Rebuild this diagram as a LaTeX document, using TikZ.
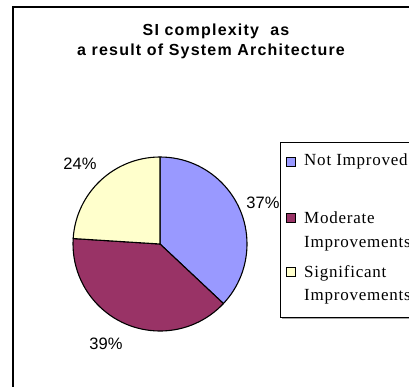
\documentclass[tikz,border=0pt]{standalone}
\usepackage{fontspec}
\newfontfamily\arialf{Liberation Sans}
\newfontfamily\titlef[LetterSpace=7.5]{Liberation Sans}
\newfontfamily\timesf[LetterSpace=4.5]{Liberation Serif}
\definecolor{notimp}{HTML}{9999FF}
\definecolor{modimp}{HTML}{993366}
\definecolor{sigimp}{HTML}{FFFFCC}
\begin{document}
\begin{tikzpicture}[x=1pt,y=1pt,
  slice/.style={draw=black,line width=1.1pt,line join=round},
  pct/.style={font=\arialf\fontsize{16.5}{18}\selectfont,inner sep=0pt},
  ttl/.style={font=\titlef\bfseries\fontsize{16}{18}\selectfont,inner sep=0pt,anchor=base},
  leg/.style={font=\timesf\fontsize{17}{19}\selectfont,inner sep=0pt,anchor=base west},
  swatch/.style={draw=black,line width=0.8pt,minimum size=8.5pt,inner sep=0pt}]
\useasboundingbox (0,0) rectangle (409,386);
\clip (0,0) rectangle (409,386);
\fill[white] (0,0) rectangle (409,386);
% outer chart frame
\draw[line width=1.2pt] (13,-20) rectangle (430,379);
% title
\node[ttl] (t1) at (216,350) {SI complexity\ \ as};
\node[ttl] (t2) at (211,330) {a result of System Architecture};
% pie
\coordinate (c) at (160,142);
\filldraw[slice,fill=notimp] (c) -- ++(90:87) arc[start angle=90,end angle=-43.2,radius=87] -- cycle;
\filldraw[slice,fill=modimp] (c) -- ++(-43.2:87) arc[start angle=-43.2,end angle=-183.6,radius=87] -- cycle;
\filldraw[slice,fill=sigimp] (c) -- ++(-183.6:87) arc[start angle=-183.6,end angle=-270,radius=87] -- cycle;
% labels
\node[pct] (p37) at (263,183) {37\%};
\node[pct] (p24) at (80,222) {24\%};
\node[pct] (p39) at (106,42) {39\%};
% legend
\fill[gray!70] (282,67) rectangle (430,242);
\draw[line width=0.9pt,fill=white] (280.5,69) rectangle (430,244);
\node[swatch,fill=notimp] (s1) at (291,224) {};
\node[leg] (l1) at (304,220) {Not Improved};
\node[swatch,fill=modimp] (s2) at (291,168) {};
\node[leg] (l2) at (304,163) {Moderate};
\node[leg] (l2b) at (304,139) {Improvements};
\node[swatch,fill=sigimp] (s3) at (291,114) {};
\node[leg] (l3) at (304,109) {Significant};
\node[leg] (l3b) at (304,86) {Improvements};
\end{tikzpicture}
\end{document}
